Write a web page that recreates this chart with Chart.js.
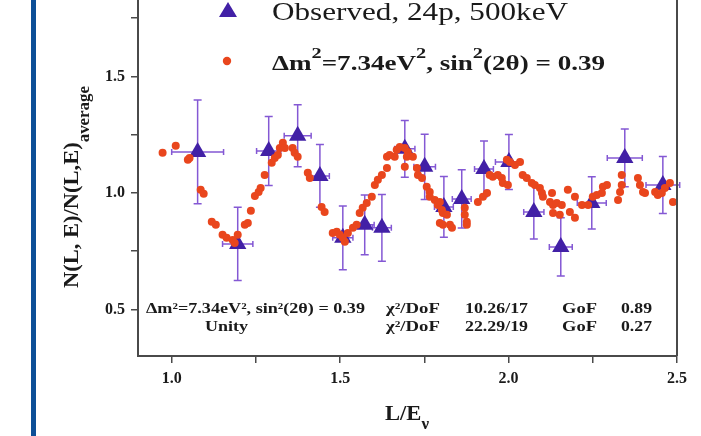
<!DOCTYPE html>
<html>
<head>
<meta charset="utf-8">
<script src="https://cdn.jsdelivr.net/npm/chart.js@4.4.0/dist/chart.umd.min.js"></script>
<style>
  html, body { margin: 0; padding: 0; background: #fff; }
  canvas { display: block; }
</style>
</head>
<body>
<canvas id="myChart" width="701" height="436"></canvas>
<script>
// observed points (L/E, ratio) with errors
const obsX = [1.077, 1.196, 1.288, 1.374, 1.440, 1.508, 1.573, 1.624, 1.692, 1.751, 1.808, 1.861, 1.927, 2.001, 2.075, 2.155, 2.247, 2.345, 2.458];
const obsY = [1.176, 0.781, 1.180, 1.245, 1.073, 0.807, 0.863, 0.850, 1.189, 1.112, 0.940, 0.974, 1.103, 1.133, 0.918, 0.768, 0.957, 1.150, 1.034];
const obsXErr = [0.077, 0.045, 0.036, 0.040, 0.028, 0.030, 0.028, 0.028, 0.030, 0.032, 0.028, 0.028, 0.028, 0.040, 0.030, 0.034, 0.043, 0.052, 0.050];
const obsYErr = [0.223, 0.157, 0.148, 0.133, 0.135, 0.137, 0.128, 0.143, 0.122, 0.140, 0.130, 0.125, 0.120, 0.118, 0.116, 0.125, 0.112, 0.124, 0.122];

// oscillation fit, dm2 = 7.34 eV2
const fitX = [0.973, 1.012, 1.048, 1.053, 1.086, 1.095, 1.119, 1.131, 1.151, 1.163, 1.181, 1.187, 1.196, 1.217, 1.226, 1.235, 1.247, 1.258, 1.264, 1.276,
  1.297, 1.306, 1.315, 1.321, 1.330, 1.336, 1.359, 1.365, 1.374, 1.404, 1.410, 1.445, 1.454, 1.478, 1.490, 1.499, 1.508, 1.514, 1.523, 1.538,
  1.549, 1.558, 1.567, 1.579, 1.594, 1.603, 1.612, 1.624, 1.639, 1.639, 1.647, 1.662, 1.668, 1.677, 1.692, 1.701, 1.698, 1.716, 1.692, 1.728,
  1.731, 1.743, 1.757, 1.766, 1.766, 1.781, 1.790, 1.796, 1.802, 1.805, 1.817, 1.796, 1.805, 1.826, 1.832, 1.870, 1.870, 1.876, 1.876, 1.909,
  1.924, 1.936, 1.944, 1.953, 1.968, 1.980, 1.983, 1.998, 1.995, 2.004, 2.019, 2.034, 2.042, 2.054, 2.069, 2.078, 2.093, 2.099, 2.102, 2.129,
  2.123, 2.132, 2.132, 2.143, 2.158, 2.152, 2.176, 2.182, 2.197, 2.197, 2.218, 2.236, 2.250, 2.262, 2.277, 2.280, 2.292, 2.325, 2.331, 2.336,
  2.336, 2.384, 2.390, 2.399, 2.405, 2.435, 2.443, 2.455, 2.464, 2.479, 2.488];
const fitY = [1.172, 1.202, 1.142, 1.150, 1.013, 0.996, 0.876, 0.863, 0.820, 0.807, 0.798, 0.785, 0.820, 0.863, 0.871, 0.923, 0.987, 1.004, 1.021, 1.077,
  1.129, 1.150, 1.163, 1.193, 1.215, 1.193, 1.193, 1.172, 1.155, 1.086, 1.064, 0.940, 0.918, 0.828, 0.833, 0.820, 0.807, 0.790, 0.828, 0.850,
  0.863, 0.914, 0.936, 0.957, 0.983, 1.034, 1.056, 1.077, 1.107, 1.155, 1.163, 1.155, 1.185, 1.197, 1.193, 1.176, 1.155, 1.155, 1.112, 1.107,
  1.077, 1.064, 1.026, 1.004, 0.983, 0.970, 0.948, 0.961, 0.927, 0.914, 0.906, 0.871, 0.863, 0.863, 0.850, 0.936, 0.906, 0.876, 0.863, 0.961,
  0.983, 1.000, 1.077, 1.069, 1.077, 1.064, 1.043, 1.034, 1.142, 1.133, 1.120, 1.133, 1.077, 1.064, 1.043, 1.034, 1.021, 1.000, 0.983, 1.000,
  0.961, 0.948, 0.914, 0.957, 0.948, 0.906, 1.013, 0.918, 0.983, 0.893, 0.948, 0.948, 0.983, 0.991, 1.000, 1.026, 1.034, 0.970, 1.004, 1.034,
  1.077, 1.064, 1.034, 1.004, 1.000, 1.004, 0.991, 1.000, 1.021, 1.043, 0.961];

const xTicks = [1.0, 1.25, 1.5, 1.75, 2.0, 2.25, 2.5];
const yTicks = [0.5, 0.75, 1.0, 1.25, 1.5, 1.75];

const fitRows = [
  ["Δm²=7.34eV², sin²(2θ) = 0.39", "10.26/17", "0.89"],
  ["Unity", "22.29/19", "0.27"]
];

const AXIS = "#4a4a4a";
const TRI = "#4220a6";
const BAR = "#8458d4";
const DOT = "#e9461d";
const SERIF = '"Liberation Serif", "Times New Roman", serif';

// draws text made of normal / sup / sub pieces, squeezed or stretched to a width
function drawRich(ctx, x, y, parts, size, weight, targetW, shift) {
  const pieces = parts.map(([t, kind]) => {
    const s = kind ? size * 0.75 : size;
    ctx.font = `${weight} ${s}px ${SERIF}`;
    return { t, kind, s, w: ctx.measureText(t).width };
  });
  const natural = pieces.reduce((a, p) => a + p.w, 0);
  const k = targetW ? targetW / natural : 1;
  ctx.save();
  ctx.translate(x, y);
  ctx.scale(k, 1);
  let cx = 0;
  pieces.forEach(p => {
    ctx.font = `${weight} ${p.s}px ${SERIF}`;
    const dy = p.kind === "sup" ? -(shift || size * 0.55) : p.kind === "sub" ? (shift || size * 0.35) : 0;
    ctx.fillText(p.t, cx, dy);
    cx += p.w;
  });
  ctx.restore();
}

const errorBars = {
  id: "errorBars",
  beforeDatasetsDraw(chart) {
    const { ctx, scales: { x, y } } = chart;
    ctx.save();
    ctx.strokeStyle = BAR;
    ctx.lineWidth = 1.5;
    obsX.forEach((vx, i) => {
      const px = x.getPixelForValue(vx);
      const py = y.getPixelForValue(obsY[i]);
      const t = y.getPixelForValue(obsY[i] + obsYErr[i]);
      const b = y.getPixelForValue(obsY[i] - obsYErr[i]);
      const l = x.getPixelForValue(vx - obsXErr[i]);
      const r = x.getPixelForValue(vx + obsXErr[i]);
      ctx.beginPath();
      ctx.moveTo(px, t); ctx.lineTo(px, b);
      ctx.moveTo(px - 4, t); ctx.lineTo(px + 4, t);
      ctx.moveTo(px - 4, b); ctx.lineTo(px + 4, b);
      ctx.moveTo(l, py); ctx.lineTo(r, py);
      ctx.moveTo(l, py - 3); ctx.lineTo(l, py + 3);
      ctx.moveTo(r, py - 3); ctx.lineTo(r, py + 3);
      ctx.stroke();
    });
    ctx.restore();
  }
};

const decorations = {
  id: "decorations",
  beforeDraw(chart) {
    const ctx = chart.ctx;
    ctx.save();
    ctx.fillStyle = "#fff";
    ctx.fillRect(0, 0, chart.width, chart.height);
    ctx.fillStyle = "#0d4f97";
    ctx.fillRect(31, 0, 5, chart.height);
    ctx.restore();
  },
  afterDraw(chart) {
    const { ctx, chartArea: a } = chart;
    ctx.save();
    // right frame
    ctx.strokeStyle = AXIS;
    ctx.lineWidth = 2;
    ctx.beginPath();
    ctx.moveTo(a.right, a.top);
    ctx.lineTo(a.right, a.bottom);
    ctx.stroke();

    ctx.textBaseline = "alphabetic";

    // legend
    ctx.fillStyle = TRI;
    ctx.beginPath();
    ctx.moveTo(228, 2); ctx.lineTo(237, 17); ctx.lineTo(219, 17);
    ctx.closePath();
    ctx.fill();
    ctx.fillStyle = DOT;
    ctx.beginPath();
    ctx.arc(227, 61, 4.2, 0, Math.PI * 2);
    ctx.fill();
    ctx.fillStyle = "#1a1a1a";
    drawRich(ctx, 272, 20, [["Observed, 24p, 500keV"]], 25, "normal", 296);
    drawRich(ctx, 272, 70, [["Δm"], ["2", "sup"], ["=7.34eV"], ["2", "sup"], [", sin"], ["2", "sup"], ["(2θ) = 0.39"]], 20, "bold", 333, 12);

    // fit summary table
    const cols = [386, 465, 562, 621];
    fitRows.forEach((row, r) => {
      const base = 313 + r * 18;
      if (r === 0) drawRich(ctx, 146, base, [[row[0]]], 14, "bold", 219);
      else drawRich(ctx, 205, base, [[row[0]]], 14, "bold", 43);
      drawRich(ctx, cols[0], base, [["χ²/DoF"]], 14, "bold", 54);
      drawRich(ctx, cols[1], base, [[row[1]]], 14, "bold", 63);
      drawRich(ctx, cols[2], base, [["GoF"]], 14, "bold", 35);
      drawRich(ctx, cols[3], base, [[row[2]]], 14, "bold", 31);
    });

    // axis titles
    drawRich(ctx, 385, 420, [["L/E"], ["ν", "sub"]], 21, "bold", 44, 9);
    ctx.save();
    ctx.translate(78, 288);
    ctx.rotate(-Math.PI / 2);
    drawRich(ctx, 0, 0, [["N(L, E)/N(L,E)"], ["average", "sub"]], 21, "bold", 202, 11);
    ctx.restore();
    ctx.restore();
  }
};

const tickLabel = v => (Math.abs(v * 2 - Math.round(v * 2)) < 1e-6 ? v.toFixed(1) : "");

new Chart(document.getElementById("myChart"), {
  type: "scatter",
  data: {
    datasets: [
      {
        label: "Δm²=7.34eV², sin²(2θ) = 0.39",
        data: fitX.map((v, i) => ({ x: v, y: fitY[i] })),
        pointStyle: "circle",
        pointRadius: 4,
        backgroundColor: DOT,
        borderColor: DOT,
        borderWidth: 0,
        order: 0
      },
      {
        label: "Observed, 24p, 500keV",
        data: obsX.map((v, i) => ({ x: v, y: obsY[i] })),
        pointStyle: "triangle",
        pointRadius: 10,
        backgroundColor: TRI,
        borderColor: TRI,
        borderWidth: 0,
        order: 1
      }
    ]
  },
  options: {
    responsive: false,
    animation: false,
    devicePixelRatio: 1,
    layout: { autoPadding: false, padding: { left: 0, right: 24, top: 0, bottom: 0 } },
    plugins: {
      legend: { display: false },
      tooltip: { enabled: false },
      title: { display: false }
    },
    scales: {
      x: {
        type: "linear",
        min: 0.9,
        max: 2.5,
        afterBuildTicks: s => { s.ticks = xTicks.map(v => ({ value: v })); },
        afterFit: s => { s.height = 80; s.paddingLeft = 0; s.paddingRight = 0; },
        grid: { drawOnChartArea: false, drawTicks: true, tickLength: 7, color: AXIS, lineWidth: 1.5 },
        border: { display: true, color: AXIS, width: 2 },
        ticks: {
          callback: tickLabel,
          color: "#1a1a1a",
          padding: 6,
          maxRotation: 0,
          autoSkip: false,
          font: { family: SERIF, size: 16, weight: "bold" }
        }
      },
      y: {
        type: "linear",
        min: 0.3,
        max: 0.3 + 356 / 233,
        afterBuildTicks: s => { s.ticks = yTicks.map(v => ({ value: v })); },
        afterFit: s => { s.width = 138; s.paddingTop = 0; s.paddingBottom = 0; },
        grid: { drawOnChartArea: false, drawTicks: true, tickLength: 7, color: AXIS, lineWidth: 1.5 },
        border: { display: true, color: AXIS, width: 2 },
        ticks: {
          callback: tickLabel,
          color: "#1a1a1a",
          padding: 6,
          autoSkip: false,
          font: { family: SERIF, size: 16, weight: "bold" }
        }
      }
    }
  },
  plugins: [decorations, errorBars]
});
</script>
</body>
</html>
